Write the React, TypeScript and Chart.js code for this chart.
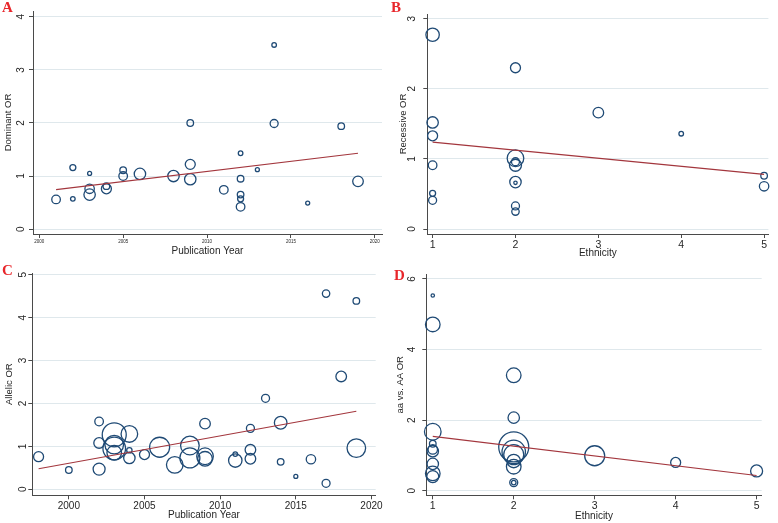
import React, { useEffect, useRef } from 'react';
import { Chart, registerables } from 'chart.js';

Chart.register(...registerables);

// ---------- Panel A: Dominant OR vs Publication Year ----------
const A_YEAR = [2001, 2002, 2002, 2003, 2003, 2003, 2004, 2004, 2005, 2005, 2006, 2008, 2009, 2009, 2009, 2011, 2012, 2012, 2012, 2012, 2012, 2013, 2014, 2014, 2016, 2018, 2019];
const A_OR = [0.56, 1.16, 0.57, 1.05, 0.76, 0.65, 0.81, 0.76, 1.11, 1.0, 1.04, 1.0, 2.0, 1.22, 0.94, 0.74, 1.43, 0.95, 0.65, 0.57, 0.42, 1.12, 3.47, 1.99, 0.49, 1.94, 0.9];
const A_WEIGHT = [4.3, 3, 2.3, 2, 4.7, 5.7, 3.3, 5, 3.3, 4.3, 5.7, 5.7, 3.3, 5, 5.7, 4.3, 2.3, 3.3, 3.3, 3, 4.3, 2, 2.3, 4, 2, 3.3, 5.3];
const A_FIT_X = [2001, 2019];
const A_FIT_Y = [0.745, 1.43];
const A_X_TICKS = [2000, 2005, 2010, 2015, 2020];
const A_Y_TICKS = [0, 1, 2, 3, 4];

// ---------- Panel B: Recessive OR vs Ethnicity ----------
const B_ETH = [1, 1, 1, 1, 1, 1, 2, 2, 2, 2, 2, 2, 2, 2, 3, 4, 5, 5];
const B_OR = [2.77, 1.52, 1.33, 0.91, 0.51, 0.41, 2.3, 1.01, 0.96, 0.91, 0.67, 0.66, 0.33, 0.25, 1.66, 1.36, 0.76, 0.61];
const B_WEIGHT = [6.7, 5.7, 5, 4.3, 3, 4, 5, 8.3, 4, 6, 5.7, 1.7, 4, 3.7, 5.3, 2.3, 3.3, 4.7];
const B_FIT_X = [1, 5];
const B_FIT_Y = [1.24, 0.78];
const B_X_TICKS = [1, 2, 3, 4, 5];
const B_Y_TICKS = [0, 1, 2, 3];

// ---------- Panel C: Allelic OR vs Publication Year ----------
const C_YEAR = [1998, 2000, 2002, 2002, 2002, 2003, 2003, 2003, 2003, 2004, 2004, 2004, 2005, 2006, 2007, 2008, 2008, 2009, 2009, 2009, 2011, 2011, 2012, 2012, 2012, 2013, 2014, 2014, 2015, 2016, 2017, 2017, 2018, 2019, 2019];
const C_OR = [0.76, 0.45, 1.58, 1.08, 0.47, 1.27, 1.04, 0.95, 0.85, 1.29, 0.91, 0.73, 0.81, 0.98, 0.57, 1.02, 0.73, 1.53, 0.77, 0.71, 0.82, 0.67, 1.42, 0.92, 0.71, 2.12, 1.55, 0.64, 0.3, 0.7, 4.56, 0.14, 2.63, 4.39, 0.96];
const C_WEIGHT = [5, 3.3, 4.3, 5.3, 6, 12, 9.3, 11.3, 7.3, 8.3, 2.7, 5.7, 5, 10, 8.3, 9.3, 10, 5.3, 8.3, 7.3, 2.3, 6.7, 4, 5.3, 5.3, 4, 6.3, 3.3, 2, 4.7, 3.7, 4, 5.3, 3.3, 9.3];
const C_FIT_X = [1998, 2019];
const C_FIT_Y = [0.48, 1.82];
const C_X_TICKS = [2000, 2005, 2010, 2015, 2020];
const C_Y_TICKS = [0, 1, 2, 3, 4, 5];

// ---------- Panel D: aa vs. AA OR vs Ethnicity ----------
const D_ETH = [1, 1, 1, 1, 1, 1, 1, 1, 1, 2, 2, 2, 2, 2, 2, 2, 2, 2, 3, 4, 5];
const D_OR = [5.53, 4.71, 1.67, 1.33, 1.17, 1.12, 0.76, 0.49, 0.4, 3.27, 2.07, 1.24, 1.1, 1.02, 0.84, 0.68, 0.23, 0.23, 0.99, 0.8, 0.56];
const D_WEIGHT = [1.7, 7.3, 8.3, 3.3, 4.7, 5.7, 5.7, 7.3, 6, 7.3, 5.7, 15, 11.7, 10, 6.7, 7.3, 4, 2.3, 10, 5, 6];
const D_FIT_X = [1, 5];
const D_FIT_Y = [1.54, 0.43];
const D_X_TICKS = [1, 2, 3, 4, 5];
const D_Y_TICKS = [0, 2, 4, 6];

const NAVY = '#1f4a75';
const FIT_RED = '#a3363d';
const AXIS = '#4a4a4a';
const GRID = '#dfe8ec';
const TEXT = '#262626';
const FONT = "'Liberation Sans', Arial, sans-serif";

type PanelProps = {
  left: number; top: number; width: number; height: number;
  xs: number[]; ys: number[]; ws: number[]; fitX: number[]; fitY: number[];
  xTicks: number[]; yTicks: number[];
  xMin: number; xMax: number; yMin: number; yMax: number;
  yAxisWidth: number; xAxisHeight: number; padTop: number; padRight: number;
  xTitle: string; yTitle: string;
  xTickSize: number; yTickSize: number; xTitleSize: number; yTitleSize: number;
  xTickPad: number; yTickPad: number; xTitlePad: number; yTitlePad: number;
};

function Panel(p: PanelProps) {
  const ref = useRef<HTMLCanvasElement | null>(null);
  useEffect(() => {
    if (!ref.current) return;
    const chart = new Chart(ref.current, {
      type: 'bubble',
      data: {
        datasets: [
          {
            type: 'line',
            data: p.fitX.map((x, i) => ({ x, y: p.fitY[i] })),
            borderColor: FIT_RED,
            borderWidth: 1.1,
            pointRadius: 0,
            fill: false,
            order: 0,
          } as any,
          {
            type: 'bubble',
            data: p.xs.map((x, i) => ({ x, y: p.ys[i], r: p.ws[i] })),
            backgroundColor: 'rgba(0,0,0,0)',
            borderColor: NAVY,
            borderWidth: 1.3,
            clip: false,
            order: 1,
          } as any,
        ],
      },
      options: {
        animation: false,
        responsive: false,
        devicePixelRatio: 1,
        layout: { padding: { top: p.padTop, right: p.padRight, left: 0, bottom: 0 } },
        plugins: { legend: { display: false }, tooltip: { enabled: false } },
        scales: {
          x: {
            type: 'linear',
            position: 'bottom',
            min: p.xMin,
            max: p.xMax,
            afterBuildTicks: (s: any) => { s.ticks = p.xTicks.map((v) => ({ value: v })); },
            afterFit: (s: any) => { s.height = p.xAxisHeight; },
            grid: { display: true, drawOnChartArea: false, drawTicks: true, tickLength: 4, color: AXIS, tickColor: AXIS },
            border: { display: true, color: AXIS, width: 1 },
            ticks: {
              autoSkip: false, maxRotation: 0, minRotation: 0, padding: p.xTickPad, color: TEXT,
              font: { size: p.xTickSize, family: FONT },
              callback: (v: any) => String(v),
            },
            title: { display: true, text: p.xTitle, color: TEXT, font: { size: p.xTitleSize, family: FONT }, padding: { top: 0, bottom: p.xTitlePad } },
          },
          y: {
            type: 'linear',
            position: 'left',
            min: p.yMin,
            max: p.yMax,
            afterBuildTicks: (s: any) => { s.ticks = p.yTicks.map((v) => ({ value: v })); },
            afterFit: (s: any) => { s.width = p.yAxisWidth; },
            grid: { display: true, drawOnChartArea: true, drawTicks: true, tickLength: 4, color: GRID, tickColor: AXIS },
            border: { display: true, color: AXIS, width: 1 },
            ticks: {
              autoSkip: false, minRotation: 90, maxRotation: 90, crossAlign: 'center', padding: p.yTickPad, color: TEXT,
              font: { size: p.yTickSize, family: FONT },
              callback: (v: any) => String(v),
            },
            title: { display: true, text: p.yTitle, color: TEXT, font: { size: p.yTitleSize, family: FONT }, padding: { top: p.yTitlePad, bottom: 0 } },
          },
        },
      } as any,
    });
    return () => chart.destroy();
  }, []);
  return (
    <canvas
      ref={ref}
      width={p.width}
      height={p.height}
      style={{ position: 'absolute', left: p.left, top: p.top, width: p.width, height: p.height }}
    />
  );
}

const letterStyle = (left: number, top: number): React.CSSProperties => ({
  position: 'absolute', left, top, color: '#e8262b', fontFamily: "'Liberation Serif', 'Times New Roman', serif",
  fontWeight: 'bold', fontSize: 15, lineHeight: '15px',
});

export default function App() {
  return (
    <div style={{ position: 'absolute', left: 0, top: 0, width: 778, height: 523, background: '#ffffff', overflow: 'hidden' }}>
      <Panel
        left={0} top={0} width={389} height={258}
        xs={A_YEAR} ys={A_OR} ws={A_WEIGHT} fitX={A_FIT_X} fitY={A_FIT_Y}
        xTicks={A_X_TICKS} yTicks={A_Y_TICKS}
        xMin={1999.625} xMax={2020.43} yMin={-0.092} yMax={4.11}
        yAxisWidth={33} xAxisHeight={24} padTop={5} padRight={6}
        xTitle="Publication Year" yTitle="Dominant OR"
        xTickSize={4.5} yTickSize={10} xTitleSize={10} yTitleSize={9.5}
        xTickPad={1} yTickPad={5} xTitlePad={1} yTitlePad={3}
      />
      <Panel
        left={389} top={0} width={389} height={258}
        xs={B_ETH} ys={B_OR} ws={B_WEIGHT} fitX={B_FIT_X} fitY={B_FIT_Y}
        xTicks={B_X_TICKS} yTicks={B_Y_TICKS}
        xMin={0.936} xMax={5.052} yMin={-0.07} yMax={3.066}
        yAxisWidth={38.3} xAxisHeight={24} padTop={10} padRight={3.3}
        xTitle="Ethnicity" yTitle="Recessive OR"
        xTickSize={10.5} yTickSize={10} xTitleSize={10} yTitleSize={9.5}
        xTickPad={1} yTickPad={8} xTitlePad={-1} yTitlePad={9}
      />
      <Panel
        left={0} top={258} width={389} height={265}
        xs={C_YEAR} ys={C_OR} ws={C_WEIGHT} fitX={C_FIT_X} fitY={C_FIT_Y}
        xTicks={C_X_TICKS} yTicks={C_Y_TICKS}
        xMin={1997.585} xMax={2020.28} yMin={-0.14} yMax={5.04}
        yAxisWidth={32.3} xAxisHeight={27.7} padTop={15} padRight={9}
        xTitle="Publication Year" yTitle="Allelic OR"
        xTickSize={10} yTickSize={10} xTitleSize={10} yTitleSize={9.5}
        xTickPad={1} yTickPad={2.5} xTitlePad={2} yTitlePad={4}
      />
      <Panel
        left={389} top={258} width={389} height={265}
        xs={D_ETH} ys={D_OR} ws={D_WEIGHT} fitX={D_FIT_X} fitY={D_FIT_Y}
        xTicks={D_X_TICKS} yTicks={D_Y_TICKS}
        xMin={0.92} xMax={5.063} yMin={-0.13} yMax={6.13}
        yAxisWidth={37.3} xAxisHeight={27.7} padTop={13.3} padRight={2}
        xTitle="Ethnicity" yTitle="aa vs. AA OR"
        xTickSize={10.5} yTickSize={10} xTitleSize={10} yTitleSize={9.5}
        xTickPad={1} yTickPad={7.5} xTitlePad={1} yTitlePad={5.5}
      />
      <div style={letterStyle(2, 0)}>A</div>
      <div style={letterStyle(391, 0)}>B</div>
      <div style={letterStyle(2, 263)}>C</div>
      <div style={letterStyle(394, 268)}>D</div>
    </div>
  );
}
